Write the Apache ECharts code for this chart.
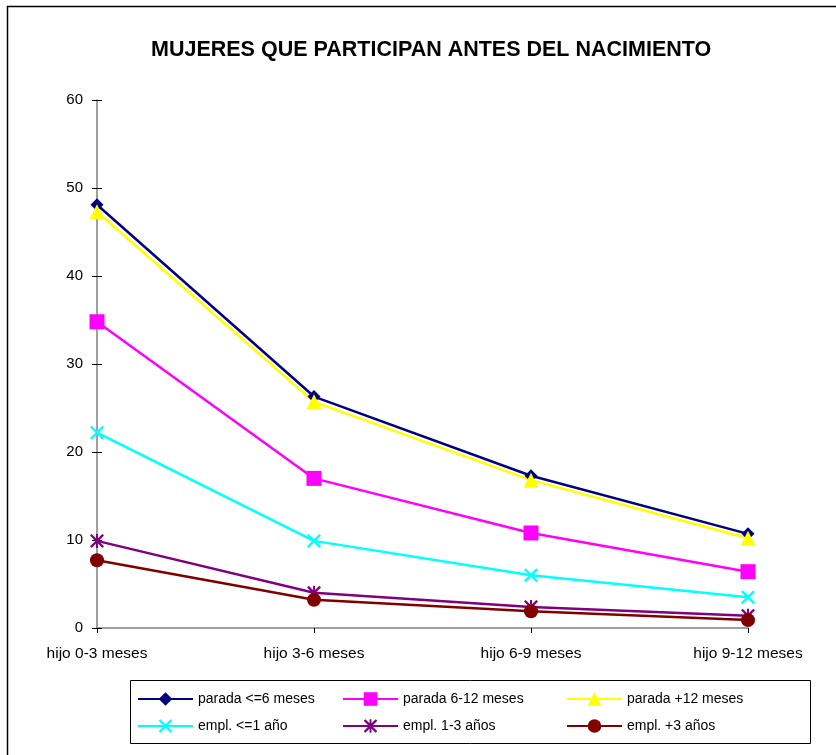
<!DOCTYPE html>
<html>
<head>
<meta charset="utf-8">
<script src="https://cdn.jsdelivr.net/npm/echarts@6/dist/echarts.min.js"></script>
<style>
html, body { margin: 0; padding: 0; background: #fff; }
#chart { width: 836px; height: 755px; }
</style>
</head>
<body>
<div id="chart"></div>
<script>
// categorias y valores
var categorias = ['hijo 0-3 meses', 'hijo 3-6 meses', 'hijo 6-9 meses', 'hijo 9-12 meses']
var parada6 = [48.1, 26.3, 17.3, 10.7]
var parada12 = [34.8, 17.0, 10.8, 6.4]
var paradaMas12 = [47.3, 25.7, 16.8, 10.2]
var empl1 = [22.2, 9.9, 6.0, 3.5]
var empl13 = [9.9, 4.0, 2.4, 1.4]
var emplMas3 = [7.7, 3.2, 1.9, 0.9]

var FONT = 'Liberation Sans, Arial, sans-serif'
// simbolos en cruz y asterisco
var cruz = 'path://M0,0.12 L0.12,0 L0.5,0.38 L0.88,0 L1,0.12 L0.62,0.5 L1,0.88 L0.88,1 L0.5,0.62 L0.12,1 L0,0.88 L0.38,0.5 Z'
var asterisco = cruz + ' M0.43,0 L0.57,0 L0.57,1 L0.43,1 Z'

function serie (name, data, color, symbol, size) {
  return {
    name: name,
    type: 'line',
    data: data,
    symbol: symbol,
    symbolSize: size,
    showAllSymbol: true,
    lineStyle: { color: color, width: 2.5 },
    itemStyle: { color: color },
    emphasis: { disabled: true },
    animation: false
  }
}

// cada entrada de la leyenda con su posicion
function leyenda (name, left, top) {
  return {
    data: [name],
    left: left,
    top: top,
    padding: 0,
    itemWidth: 55,
    itemHeight: 17,
    itemGap: 4,
    textStyle: { fontFamily: FONT, fontSize: 14, color: '#000' },
    selectedMode: false
  }
}

var chart = echarts.init(document.getElementById('chart'))
chart.setOption({
  backgroundColor: '#fff',
  title: {
    text: 'MUJERES QUE PARTICIPAN ANTES DEL NACIMIENTO',
    left: 146,
    top: 34,
    textStyle: { fontFamily: FONT, fontSize: 21.5, fontWeight: 'bold', color: '#000' }
  },
  graphic: [
    { type: 'polyline', shape: { points: [[7.5, 760], [7.5, 6.5], [840, 6.5]] }, style: { stroke: '#000', lineWidth: 1.5, fill: null } },
    { type: 'rect', shape: { x: 130.5, y: 680.5, width: 680, height: 63 }, style: { stroke: '#000', lineWidth: 1, fill: null }, z: -1 }
  ],
  legend: [
    leyenda('parada <=6 meses', 137, 692),
    leyenda('parada 6-12 meses', 342, 692),
    leyenda('parada +12 meses', 566, 692),
    leyenda('empl. <=1 año', 137, 719),
    leyenda('empl. 1-3 años', 342, 719),
    leyenda('empl. +3 años', 566, 719)
  ],
  grid: { left: 97, right: 88, top: 100, bottom: 127 },
  xAxis: {
    type: 'category',
    data: categorias,
    boundaryGap: false,
    axisLine: { lineStyle: { color: '#808080', width: 1.5 } },
    axisTick: { alignWithLabel: true, length: 5, lineStyle: { color: '#000' } },
    axisLabel: { fontFamily: FONT, fontSize: 15.5, color: '#000', margin: 18 }
  },
  yAxis: [{
    type: 'value',
    min: 0,
    max: 60,
    interval: 10,
    splitLine: { show: false },
    axisLine: { show: true, lineStyle: { color: '#808080', width: 1.5 } },
    axisTick: { show: true, length: 5, lineStyle: { color: '#000' } },
    axisLabel: { fontFamily: FONT, fontSize: 15, color: '#000', margin: 14 }
  }, {
    type: 'value',
    position: 'left',
    min: 0,
    max: 60,
    interval: 10,
    splitLine: { show: false },
    axisLine: { show: false },
    axisTick: { show: true, inside: true, length: 5, lineStyle: { color: '#000' } },
    axisLabel: { show: false }
  }],
  series: [
    serie('parada <=6 meses', parada6, '#000080', 'diamond', 13),
    serie('parada 6-12 meses', parada12, '#FF00FF', 'rect', 15),
    serie('parada +12 meses', paradaMas12, '#FFFF00', 'triangle', 15),
    serie('empl. <=1 año', empl1, '#00FFFF', cruz, 14),
    serie('empl. 1-3 años', empl13, '#800080', asterisco, 14),
    serie('empl. +3 años', emplMas3, '#800000', 'circle', 14)
  ]
})
</script>
</body>
</html>
